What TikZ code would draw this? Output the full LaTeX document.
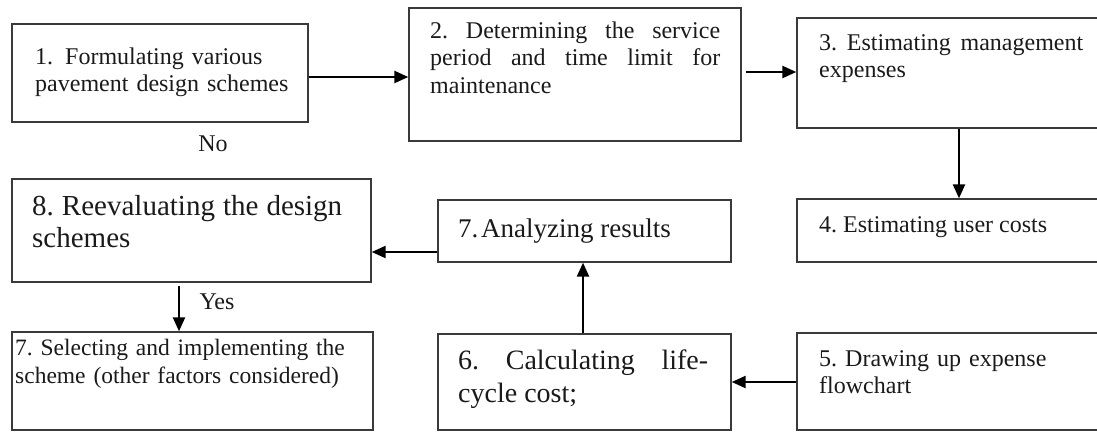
\documentclass[tikz,border=0pt]{standalone}
\usepackage{fontspec}
\setmainfont{Liberation Serif}
\usetikzlibrary{arrows.meta,fit}
\definecolor{edge}{HTML}{3A3A3A}
\definecolor{ink}{HTML}{1A1A1A}
\frenchspacing
\begin{document}
\begin{tikzpicture}[x=1pt,y=-1pt,
  box/.style={draw=edge,line width=1.4pt,inner sep=0pt,rectangle},
  txt/.style={anchor=base west,inner sep=0pt,text=ink,font=\fontsize{24}{27.5}\selectfont},
  ltxt/.style={txt,align=left},
  jtxt/.style={txt,align=justify},
  lbl/.style={anchor=base,inner sep=0pt,text=ink,font=\fontsize{24}{27.5}\selectfont},
  arr/.style={line width=2.4pt,draw=black,-{Triangle[length=14pt,width=12pt]}}]
\useasboundingbox (0,0) rectangle (1097,432);
\clip (0,0) rectangle (1097,432);
% boxes
\node[box,fit={(12,24) (308,122)}] (b1) {};
\node[box,fit={(409,8) (741,141)}] (b2) {};
\node[box,fit={(797,18) (1110,128)}] (b3) {};
\node[box,fit={(797,199) (1110,262)}] (b4) {};
\node[box,fit={(797,333) (1110,430)}] (b5) {};
\node[box,fit={(438,334) (731,430)}] (b6) {};
\node[box,fit={(438,200) (731,262)}] (b7) {};
\node[box,fit={(12,179) (371,282)}] (b8) {};
\node[box,fit={(12,332) (373,430)}] (b9) {};
% texts
\node[ltxt,text width=270pt] (t1) at (35,64) {1.\hspace{0.5em}Formulating various\\pavement design schemes};
\node[jtxt,text width=290pt] (t2) at (430,38) {2. Determining the service\linebreak period and time limit for\linebreak maintenance};
\node[jtxt,text width=264pt] (t3) at (819,50) {3. Estimating management\linebreak expenses};
\node[txt] (t4) at (819,232) {4. Estimating user costs};
\node[ltxt,text width=260pt] (t5) at (819,366) {5. Drawing up expense\\flowchart};
\node[jtxt,text width=250pt,font=\fontsize{28}{33}\selectfont] (t6) at (458,369) {6. Calculating life-\linebreak cycle cost;};
\node[txt,font=\fontsize{27}{31}\selectfont] (t7) at (458,237) {7.\hspace{0.1em}Analyzing results};
\node[jtxt,text width=310pt,font=\fontsize{29}{32}\selectfont] (t8) at (32,215) {8. Reevaluating the design\linebreak schemes};
\node[ltxt,text width=356pt,font=\fontsize{23.5}{28}\selectfont] (t9) at (15,355) {7. Selecting and implementing the\\scheme (other factors considered)};
% labels
\node[lbl] (no) at (213,151) {No};
\node[lbl] (yes) at (217,309) {Yes};
% connectors
\draw[arr] (b1.east |- 0,77) -- (b2.west |- 0,77);
\draw[arr,shorten <=4pt] (b2.east |- 0,72) -- (b3.west |- 0,72);
\draw[arr] (b3.south -| 959,0) -- (b4.north -| 959,0);
\draw[arr] (b5.west |- 0,382) -- (b6.east |- 0,382);
\draw[arr] (b6.north -| 583,0) -- (b7.south -| 583,0);
\draw[arr] (b7.west |- 0,252) -- (b8.east |- 0,252);
\draw[arr,shorten <=3pt] (b8.south -| 179,0) -- (b9.north -| 179,0);
\end{tikzpicture}
\end{document}
